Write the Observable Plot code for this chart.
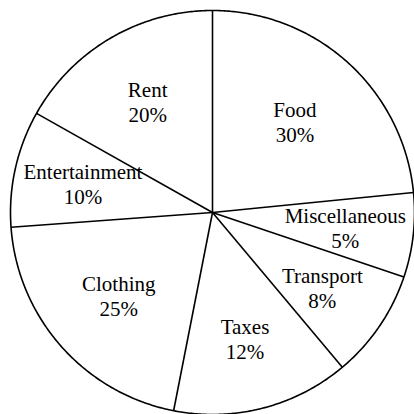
<!DOCTYPE html>
<html>
<head>
<meta charset="utf-8">
<script src="https://cdn.jsdelivr.net/npm/d3@7"></script>
<script src="https://cdn.jsdelivr.net/npm/@observablehq/plot@0.6"></script>
<style>
  html, body { margin: 0; padding: 0; background: #fff; }
  #chart { width: 414px; height: 414px; }
</style>
</head>
<body>
<div id="chart"></div>
<script>
// Categories in clockwise order starting at 12 o'clock
const categories = ["Food", "Miscellaneous", "Transport", "Taxes", "Clothing", "Entertainment", "Rent"];
// Percent labels printed on the chart
const percentLabels = [30, 5, 8, 12, 25, 10, 20];
// Slice sizes as drawn in the picture (degrees of arc, measured)
const sliceDegrees = [84.3, 24.3, 31.4, 51.1, 74.7, 33.6, 60.6];

const R = 202;
const table = categories.map((c, i) => ({category: c, pct: percentLabels[i], share: sliceDegrees[i]}));
const arcs = d3.pie().value(d => d.share).sort(null).startAngle(0).endAngle(2 * Math.PI)(table);

const pt = (a, r) => ({x: r * Math.sin(a), y: -r * Math.cos(a)});
const circle = d3.range(0, 721).map(i => pt(i / 720 * 2 * Math.PI, R));
const spokes = arcs.map(a => { const p = pt(a.startAngle, R); return {x1: 0, y1: 0, x2: p.x, y2: p.y}; });
const labels = arcs.map(a => {
  const mid = (a.startAngle + a.endAngle) / 2;
  const half = (a.endAngle - a.startAngle) / 2;
  const dist = 2 * R * Math.sin(half) / (3 * half);
  const p = pt(mid, dist);
  return {x: p.x, y: p.y, text: `${a.data.category}\n${a.data.pct}%`};
});

const chart = Plot.plot({
  width: 414,
  height: 414,
  margin: 0,
  x: {domain: [-212, 202], range: [0, 414], axis: null},
  y: {domain: [-212, 202], range: [0, 414], axis: null},
  style: {background: "#fff"},
  marks: [
    Plot.line(circle, {x: "x", y: "y", stroke: "#000", strokeWidth: 1.6}),
    Plot.link(spokes, {x1: "x1", y1: "y1", x2: "x2", y2: "y2", stroke: "#000", strokeWidth: 1.6}),
    Plot.text(labels, {x: "x", y: "y", text: "text", fontSize: 21, lineHeight: 1.19, fill: "#000", fontFamily: "Liberation Serif"})
  ]
});
document.getElementById("chart").appendChild(chart);
</script>
</body>
</html>
